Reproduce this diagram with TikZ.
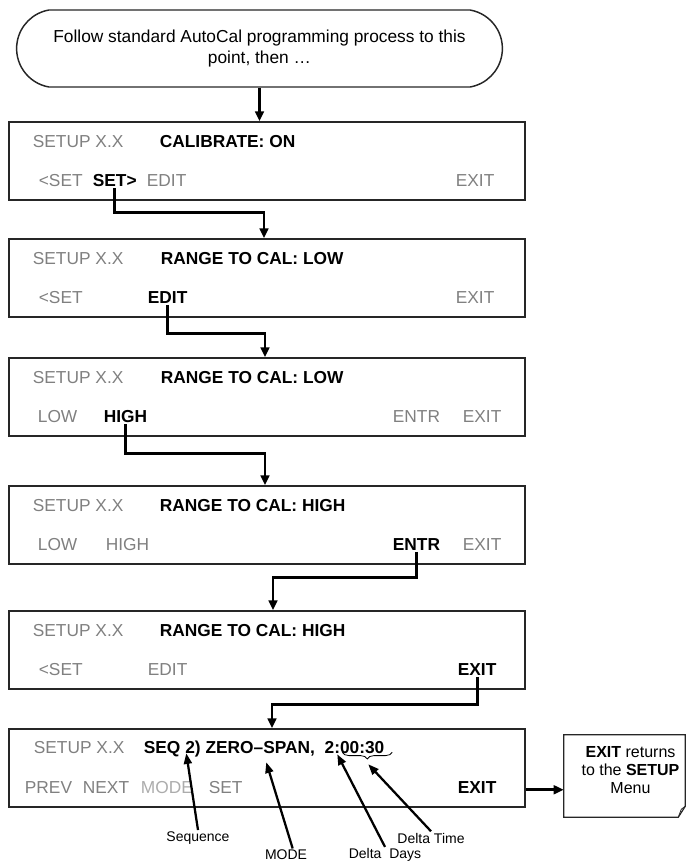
\documentclass[tikz,border=0pt]{standalone}
\usepackage{fontspec}
\setmainfont{Liberation Sans}
\usepackage{xcolor}
\usepackage{tikz}
\usetikzlibrary{shapes.misc,arrows.meta,calc,decorations.pathreplacing}
\definecolor{keygray}{RGB}{128,128,128}
\definecolor{keypale}{RGB}{172,172,172}

\begin{document}
\begin{tikzpicture}[x=0.75pt, y=-0.75pt,
      screen/.style={rectangle, draw=black!85, line width=1.1pt, minimum width=387pt, minimum height=58.5pt, inner sep=0pt},
      start/.style={rounded rectangle, rounded rectangle arc length=160, draw=black!85, line width=1.1pt, minimum width=371pt, minimum height=57.75pt, align=center, font=\fontsize{13}{15.6}\selectfont},
      key/.style={anchor=base west, inner sep=1pt, text=keygray, font=\fontsize{13}{15.6}\selectfont},
      hot/.style={key, text=black, font=\fontsize{13}{15.6}\selectfont\bfseries},
      pale/.style={key, text=keypale},
      line/.style={draw, -{Triangle[length=7.5pt, width=6.5pt]}, line width=2.2pt},
      pointer/.style={draw, -{Triangle[length=8pt, width=6pt]}, line width=1.7pt},
      tag/.style={font=\fontsize{10.5}{12}\selectfont, inner sep=1pt},
      notebox/.style={minimum width=90.75pt, minimum height=61.5pt, inner sep=0pt}]

      \useasboundingbox (0,0) rectangle (686,861);

      % Nodes
      \node [start] (begin) at (259.5,48.5) {Follow standard AutoCal programming process to this\\point, then …};
      \node [screen] (s1) at (267,161) {};
      \node [screen] (s2) at (267,278) {};
      \node [screen] (s3) at (267,397) {};
      \node [screen] (s4) at (267,525) {};
      \node [screen] (s5) at (267,650) {};
      \node [screen] (s6) at (267,768) {};
      \node [notebox] (note) at (624.5,776) {};

      % Screen texts
      \node [key] (t1) at ($(s1.north west)+(23,26)$) {SETUP X.X};
      \node [hot] (h1) at ($(s1.north west)+(150,26)$) {CALIBRATE: ON};
      \node [key] (a1) at ($(s1.north west)+(29,65)$) {<SET};
      \node [hot] (k1) at ($(s1.north west)+(83,65)$) {SET>};
      \node [key] (e1) at ($(s1.north west)+(137,65)$) {EDIT};
      \node [key] (x1) at ($(s1.north west)+(446,65)$) {EXIT};

      \node [key] (t2) at ($(s2.north west)+(23,26)$) {SETUP X.X};
      \node [hot] (h2) at ($(s2.north west)+(151,26)$) {RANGE TO CAL: LOW};
      \node [key] (a2) at ($(s2.north west)+(29,65)$) {<SET};
      \node [hot] (k2) at ($(s2.north west)+(138,65)$) {EDIT};
      \node [key] (x2) at ($(s2.north west)+(446,65)$) {EXIT};

      \node [key] (t3) at ($(s3.north west)+(23,26)$) {SETUP X.X};
      \node [hot] (h3) at ($(s3.north west)+(151,26)$) {RANGE TO CAL: LOW};
      \node [key] (a3) at ($(s3.north west)+(28,65)$) {LOW};
      \node [hot] (k3) at ($(s3.north west)+(94,65)$) {HIGH};
      \node [key] (n3) at ($(s3.north west)+(383,65)$) {ENTR};
      \node [key] (x3) at ($(s3.north west)+(453,65)$) {EXIT};

      \node [key] (t4) at ($(s4.north west)+(23,26)$) {SETUP X.X};
      \node [hot] (h4) at ($(s4.north west)+(150,26)$) {RANGE TO CAL: HIGH};
      \node [key] (a4) at ($(s4.north west)+(28,65)$) {LOW};
      \node [key] (g4) at ($(s4.north west)+(96,65)$) {HIGH};
      \node [hot] (k4) at ($(s4.north west)+(383,65)$) {ENTR};
      \node [key] (x4) at ($(s4.north west)+(453,65)$) {EXIT};

      \node [key] (t5) at ($(s5.north west)+(23,26)$) {SETUP X.X};
      \node [hot] (h5) at ($(s5.north west)+(150,26)$) {RANGE TO CAL: HIGH};
      \node [key] (a5) at ($(s5.north west)+(29,65)$) {<SET};
      \node [key] (e5) at ($(s5.north west)+(138,65)$) {EDIT};
      \node [hot] (k5) at ($(s5.north west)+(448,65)$) {EXIT};

      \node [key] (t6) at ($(s6.north west)+(24,25)$) {SETUP X.X};
      \node [hot] (h6) at ($(s6.north west)+(134,25)$) {SEQ 2) ZERO–SPAN,\ \ 2:00:30};
      \node [key] (p6) at ($(s6.north west)+(15,65)$) {PREV};
      \node [key] (n6) at ($(s6.north west)+(73,65)$) {NEXT};
      \node [pale] (m6) at ($(s6.north west)+(131,65)$) {MODE};
      \node [key] (e6) at ($(s6.north west)+(199,65)$) {SET};
      \node [hot] (x6) at ($(s6.north west)+(448,65)$) {EXIT};

      \node [align=center, font=\fontsize{12}{13.5}\selectfont, inner sep=0pt] (notetext) at ($(note.center)+(6,-6)$) {\textbf{EXIT} returns\\to the \textbf{SETUP}\\Menu};

      % Edges
      \path [line] (begin.south) -- (begin.south |- s1.north);
      \path [line] (k1.south) |- ($(s1.south)+(-3,12)$) coordinate (c1) -- (c1 |- s2.north);
      \path [line] (k2.south) |- ($(s2.south)+(-2,16)$) coordinate (c2) -- (c2 |- s3.north);
      \path [line] (k3.south) |- ($(s3.south)+(-2,17)$) coordinate (c3) -- (c3 |- s4.north);
      \path [line] (k4.south) |- ($(s4.south)+(6,13)$) coordinate (c4) -- (c4 |- s5.north);
      \path [line] (k5.south) |- ($(s5.south)+(5,15)$) coordinate (c5) -- (c5 |- s6.north);
      \path [line] (s6.east |- x6.mid) -- (note.west |- x6.mid);

      % Note outline with folded corner
      \draw [line width=0.9pt, black!85] (note.north west) -- (note.north east) -- ($(note.south east)+(0,-11)$) -- ($(note.south east)+(-7,0)$) -- (note.south west) -- cycle;
      \draw [line width=0.6pt, black!85] ($(note.south east)+(-7,0)$) -- ($(note.south east)+(-4,-8)$) -- ($(note.south east)+(0,-11)$);

      % Annotations
      \coordinate (braceL) at ($(s6.north west)+(334,24)$);
      \coordinate (braceR) at ($(s6.north west)+(384,24)$);
      \draw [decorate, decoration={brace, mirror, amplitude=5pt}, line width=0.6pt] (braceL) -- (braceR);

      \coordinate (tipSeq) at ($(s6.north west)+(178,25)$);
      \coordinate (tipMode) at ($(s6.north west)+(258,34)$);
      \coordinate (tipDays) at ($(s6.north west)+(329,26)$);
      \coordinate (tipTime) at ($(braceL)!0.5!(braceR)+(1,12)$);

      \node [tag] (lseq) at (198,838) {Sequence};
      \node [tag] (lmode) at (286,855) {MODE};
      \node [tag] (ldays) at (385,855) {Delta\ \ Days};
      \node [tag] (ltime) at (431,838) {Delta Time};

      \path [pointer] (lseq.north) -- (tipSeq);
      \path [pointer] ([xshift=5pt]lmode.north) -- (tipMode);
      \path [pointer] (ldays.north) -- (tipDays);
      \path [pointer] (ltime.north) -- (tipTime);

    \end{tikzpicture}
\end{document}
